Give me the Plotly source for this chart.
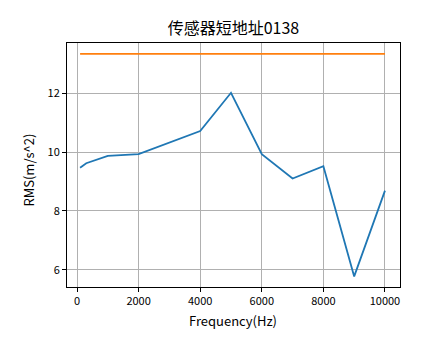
import plotly.graph_objects as go

freq = [100, 300, 1000, 2000, 4000, 5000, 6000, 7000, 8000, 9000, 10000]
rms = [9.47, 9.62, 9.87, 9.93, 10.71, 12.01, 9.93, 9.10, 9.52, 5.78, 8.69]
threshold = [13.33] * len(freq)

title_text = "传感器短地址0138"
x_label = "Frequency(Hz)"
y_label = "RMS(m/s^2)"
x_ticks = [0, 2000, 4000, 6000, 8000, 10000]
y_ticks = [6, 8, 10, 12]

FONT = "Noto Sans CJK SC"

# page body has an 8px default margin, so the figure is sized to fit the window
W, H = 436, 351

fig = go.Figure()
fig.add_trace(go.Scatter(x=freq, y=rms, mode="lines",
                         line=dict(color="#1f77b4", width=1.8), showlegend=False))
fig.add_trace(go.Scatter(x=freq, y=threshold, mode="lines",
                         line=dict(color="#ff7f0e", width=1.8), showlegend=False))

axis_common = dict(
    showgrid=True, gridcolor="#b0b0b0", gridwidth=1,
    showline=True, linecolor="black", linewidth=1, mirror=True,
    ticks="outside", ticklen=4, tickcolor="black", tickwidth=1,
    zeroline=False,
    tickfont=dict(family=FONT, size=11, color="black"),
)

fig.update_layout(
    width=W, height=H,
    margin=dict(l=59, r=44, t=35, b=72),
    paper_bgcolor="white", plot_bgcolor="white",
    title=dict(text=title_text, x=0.5, xanchor="center", xref="paper",
               y=1 - 20.5 / H, yanchor="middle", yref="container",
               font=dict(family=FONT, size=16, color="black")),
    xaxis=dict(range=[-325, 10488], tickvals=x_ticks,
               ticktext=[str(v) for v in x_ticks], **axis_common),
    yaxis=dict(range=[5.42, 13.70], tickvals=y_ticks,
               ticktext=[str(v) for v in y_ticks], **axis_common),
    annotations=[
        dict(text=x_label, xref="paper", yref="paper", x=0.497, y=-0.137,
             xanchor="center", yanchor="middle", showarrow=False,
             font=dict(family=FONT, size=13, color="black")),
        dict(text=y_label, xref="paper", yref="paper", x=-0.115, y=0.48,
             xanchor="center", yanchor="middle", showarrow=False, textangle=-90,
             font=dict(family=FONT, size=13, color="black")),
    ],
)

fig.write_html("out.html")
